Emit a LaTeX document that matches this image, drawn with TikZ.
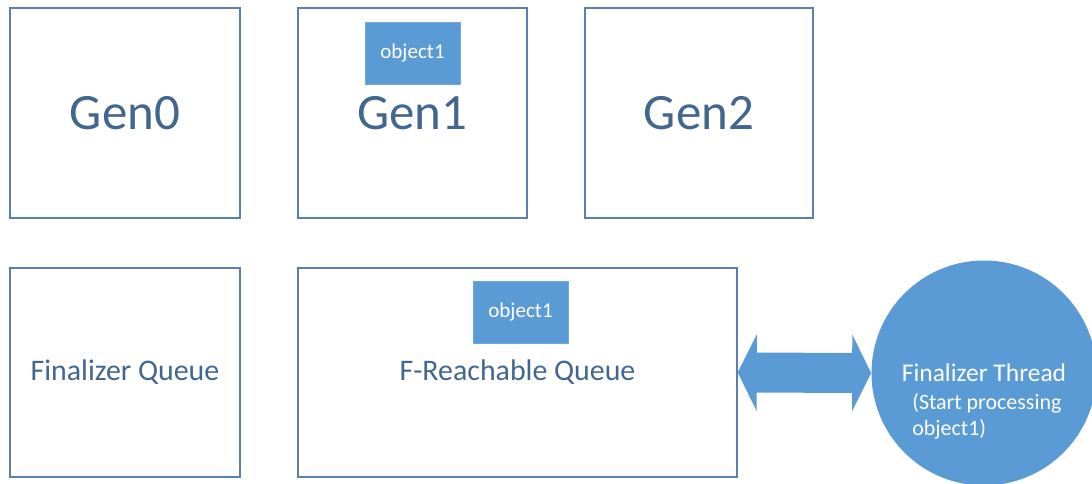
\documentclass[tikz,border=0pt]{standalone}
\usepackage{fontspec}
\setmainfont{Carlito}
\usepackage{tikz}
\usetikzlibrary{shapes,arrows.meta}
\definecolor{edgeblue}{HTML}{5B80B0}
\definecolor{textblue}{HTML}{41678F}
\definecolor{fillblue}{HTML}{5B9BD5}
\tikzstyle{gen} = [rectangle, draw=edgeblue, line width=0.8pt, text=textblue,
    minimum width=4.6cm, minimum height=4.2cm, font=\fontsize{29}{34}\selectfont]
\tikzstyle{queue} = [rectangle, draw=edgeblue, line width=0.8pt, text=textblue,
    minimum height=4.18cm, font=\fontsize{17}{20}\selectfont]
\tikzstyle{obj} = [rectangle, fill=fillblue, draw=fillblue!85!white, text=white,
    minimum width=1.9cm, minimum height=1.24cm, font=\fontsize{12}{14}\selectfont]
\tikzstyle{biarrow} = [draw=fillblue, fill=fillblue, line width=0.8cm,
    {Triangle[width=1.52cm, length=0.38cm]}-{Triangle[width=1.52cm, length=0.38cm]}]

\begin{document}
\begin{tikzpicture}
\useasboundingbox (0,0) rectangle (21.84,9.66);
\node [gen] at (2.5,7.4) (gen0) {Gen0};
\node [gen, minimum width=4.58cm] at (8.25,7.4) (gen1) {Gen1};
\node [gen, minimum width=4.56cm] at (13.98,7.4) (gen2) {Gen2};
\node [obj] at (8.25,8.6) (objgen) {object1};

\node [queue, minimum width=4.6cm] at (2.5,2.21) (finq) {Finalizer Queue};
\node [queue, minimum width=8.78cm] at (10.35,2.21) (frq) {F-Reachable Queue};
\node [obj] at (10.41,3.42) (objfrq) {object1};

\node [circle, fill=fillblue, text=white, minimum size=4.5cm,
    font=\fontsize{14.5}{17}\selectfont] at (19.68,2.2) (thread) {Finalizer Thread};
\node [anchor=north west, text=white, align=left, inner sep=0pt,
    font=\fontsize{12.5}{14.7}\selectfont] at (18.24,1.80) (threadnote)
    {(Start processing\\object1)};

\draw [biarrow] (frq.east) -- (thread.west);
\end{tikzpicture}
\end{document}
